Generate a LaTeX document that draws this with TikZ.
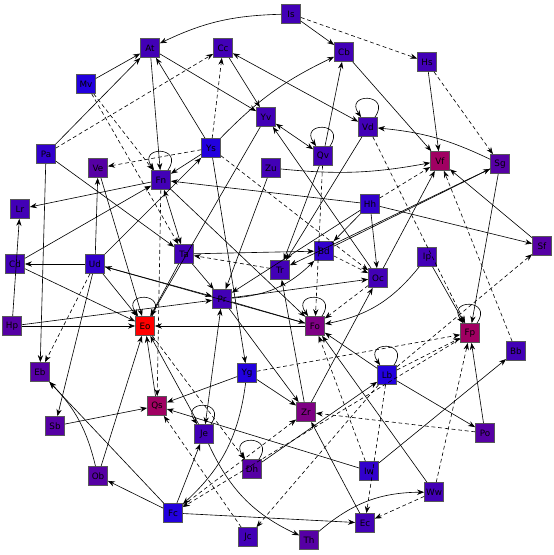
\documentclass[tikz,border=0pt]{standalone}
\usepackage{fontspec}
\setmainfont{DejaVu Sans}
\usetikzlibrary{arrows.meta}
\definecolor{nblue}{HTML}{2200DE}
\definecolor{nbltwo}{HTML}{3200CC}
\definecolor{nind}{HTML}{4200B6}
\definecolor{nvio}{HTML}{5600A4}
\definecolor{npur}{HTML}{7E0084}
\definecolor{nmag}{HTML}{A00062}
\definecolor{nred}{HTML}{FF0000}
\tikzset{
  vtx/.style={draw=black!65, line width=0.4pt, minimum size=0.38cm, inner sep=0pt,
    font=\fontsize{5}{6}\selectfont},
  cn/.style={draw, ->, line width=0.35pt},
  dcn/.style={cn, dashed, dash pattern=on 2.2pt off 1.6pt},
  lp/.style={cn, loop, out=55, in=125, min distance=6mm},
}

\begin{document}
\begin{tikzpicture}[x=0.02cm, y=-0.02cm, >={Stealth[length=4pt,width=3pt]}]
  \useasboundingbox (0,0) rectangle (554,555);
  % top ring
  \node[vtx, fill=nind] (is) at (291,14) {Is};
  \node[vtx, fill=nind] (at) at (150,48) {At};
  \node[vtx, fill=nind] (cc) at (223,48) {Cc};
  \node[vtx, fill=nind] (cb) at (344,52) {Cb};
  \node[vtx, fill=nind] (hs) at (427,62) {Hs};
  \node[vtx, fill=nblue] (mv) at (86,84) {Mv};
  \node[vtx, fill=nind] (yv) at (266,117) {Yv};
  \node[vtx, fill=nind] (vd) at (368,127) {Vd};
  \node[vtx, fill=nind] (qv) at (323,156) {Qv};
  \node[vtx, fill=nmag] (vf) at (440,161) {Vf};
  \node[vtx, fill=nvio] (sg) at (500,164) {Sg};
  \node[vtx, fill=nbltwo] (pa) at (46,154) {Pa};
  \node[vtx, fill=nvio] (ve) at (98,168) {Ve};
  \node[vtx, fill=nblue] (ys) at (211,148) {Ys};
  \node[vtx, fill=nind] (fn) at (161,180) {Fn};
  \node[vtx, fill=nind] (zu) at (271,168) {Zu};
  % middle
  \node[vtx, fill=nind] (lr) at (20,209) {Lr};
  \node[vtx, fill=nbltwo] (hh) at (370,204) {Hh};
  \node[vtx, fill=nvio] (sf) at (542,246) {Sf};
  \node[vtx, fill=nbltwo] (bd) at (324,251) {Bd};
  \node[vtx, fill=nind] (ta) at (184,254) {Ta};
  \node[vtx, fill=nind] (cd) at (15,264) {Cd};
  \node[vtx, fill=nbltwo] (ud) at (95,264) {Ud};
  \node[vtx, fill=nind] (ip) at (427,257) {Ip};
  \node[vtx, fill=nind] (tr) at (280,270) {Tr};
  \node[vtx, fill=nind] (oc) at (378,278) {Oc};
  \node[vtx, fill=nind] (pr) at (222,299) {Pr};
  \node[vtx, fill=nvio] (hp) at (12,326) {Hp};
  \node[vtx, fill=nred] (eo) at (145,326) {Eo};
  \node[vtx, fill=npur] (fo) at (315,326) {Fo};
  \node[vtx, fill=nmag] (fp) at (470,333) {Fp};
  \node[vtx, fill=nind] (bb) at (516,351) {Bb};
  % bottom ring
  \node[vtx, fill=nvio] (eb) at (40,372) {Eb};
  \node[vtx, fill=nblue] (yg) at (247,373) {Yg};
  \node[vtx, fill=nblue] (lb) at (387,375) {Lb};
  \node[vtx, fill=nmag] (qs) at (157,406) {Qs};
  \node[vtx, fill=nvio] (sb) at (55,426) {Sb};
  \node[vtx, fill=npur] (zr) at (306,412) {Zr};
  \node[vtx, fill=nind] (je) at (204,434) {Je};
  \node[vtx, fill=nvio] (po) at (485,433) {Po};
  \node[vtx, fill=nvio] (dh) at (252,469) {Dh};
  \node[vtx, fill=nbltwo] (iw) at (369,471) {Iw};
  \node[vtx, fill=nvio] (ob) at (98,476) {Ob};
  \node[vtx, fill=nblue] (fc) at (173,513) {Fc};
  \node[vtx, fill=nind] (ww) at (434,492) {Ww};
  \node[vtx, fill=nind] (ec) at (365,523) {Ec};
  \node[vtx, fill=nind] (jc) at (248,537) {Jc};
  \node[vtx, fill=nvio] (th) at (309,540) {Th};
  % connectors
  \path (is) edge[cn, bend right=12] (at) edge[cn] (cb) edge[dcn] (hs);
  \path (mv) edge[cn] (at) edge[dcn] (fn) edge[dcn] (ta);
  \path (pa) edge[cn] (at) edge[dcn] (cc) edge[cn] (eb) edge[cn] (ta);
  \path (at) edge[cn] (yv) edge[cn] (fn);
  \path (ys) edge[cn] (at) edge[dcn] (cc) edge[dcn] (ve) edge[cn] (fn)
    edge[cn] (yg) edge[dcn] (oc) edge[cn, bend left=10] (cb);
  \path (cc) edge[cn] (yv) edge[cn, <->] (vd);
  \path (cb) edge[cn] (vf);
  \path (hs) edge[cn] (vf) edge[dcn] (sg);
  \path (sg) edge[cn, bend right=10] (vd) edge[cn] (fp) edge[cn] (tr);
  \path (qv) edge[cn] (cb) edge[cn, <->] (yv) edge[dcn] (fo) edge[cn] (tr) edge[lp] (qv);
  \path (vd) edge[cn] (tr) edge[dcn] (fp) edge[lp] (vd);
  \path (yv) edge[cn] (eo);
  \path (zu) edge[cn, bend right=8] (vf) edge[cn] (pr);
  \path (fn) edge[cn] (lr) edge[cn, <->] (ta) edge[cn] (fo) edge[dcn] (qs) edge[lp] (fn);
  \path (ta) edge[cn] (pr) edge[cn] (eo) edge[cn] (bd);
  \path (ud) edge[cn] (ys) edge[cn] (ve) edge[cn] (cd) edge[cn] (eo) edge[cn] (pr)
    edge[dcn] (eb) edge[cn] (sb);
  \path (ve) edge[cn] (eo);
  \path (hh) edge[cn] (fn) edge[cn] (sf) edge[cn] (oc) edge[cn] (bd) edge[cn] (pr)
    edge[dcn] (vf);
  \path (sf) edge[cn] (vf);
  \path (cd) edge[cn] (fn) edge[cn] (eo);
  \path (hp) edge[cn] (eo) edge[cn] (pr) edge[cn] (lr);
  \path (tr) edge[dcn] (ta);
  \path (bd) edge[dcn] (oc) edge[cn] (sg);
  \path (oc) edge[dcn] (fo) edge[cn] (vf) edge[cn] (yv);
  \path (pr) edge[cn] (fo) edge[cn] (zr) edge[cn] (oc) edge[cn, <->] (je)
    edge[cn, bend right=20] (bd);
  \path (fo) edge[cn] (eo) edge[cn] (ud) edge[lp] (fo);
  \path (ip) edge[cn, bend left=20] (fo) edge[cn] (fp);
  \path (yg) edge[cn] (qs) edge[cn] (zr) edge[cn, bend left=20] (fc) edge[dcn] (fp);
  \path (sb) edge[cn] (qs);
  \path (qs) edge[cn] (eo);
  \path (ob) edge[cn] (eo) edge[cn, bend right=15] (eb);
  \path (fc) edge[cn] (ob) edge[cn] (eb) edge[cn] (je) edge[cn] (ec) edge[dcn] (zr);
  \path (fp) edge[dcn] (fc) edge[lp] (fp);
  \path (je) edge[cn] (eo) edge[cn, bend right=20] (th) edge[lp] (je);
  \path (iw) edge[cn] (qs) edge[cn] (bb) edge[dcn] (fo);
  \path (eo) edge[dcn] (dh) edge[lp] (eo);
  \path (dh) edge[cn] (lb) edge[lp] (dh);
  \path (ec) edge[cn] (zr);
  \path (zr) edge[cn] (tr) edge[cn] (oc);
  \path (lb) edge[cn] (po) edge[cn] (fo) edge[dcn] (fp) edge[dcn] (sf)
    edge[dcn] (ec) edge[dcn] (jc) edge[lp] (lb);
  \path (ww) edge[cn] (fo) edge[dcn] (fp) edge[dcn] (ec);
  \path (th) edge[cn, bend left=20] (ww);
  \path (po) edge[cn] (fp) edge[dcn] (zr);
  \path (bb) edge[dcn] (vf);
  \path (jc) edge[dcn] (qs);
\end{tikzpicture}
\end{document}
